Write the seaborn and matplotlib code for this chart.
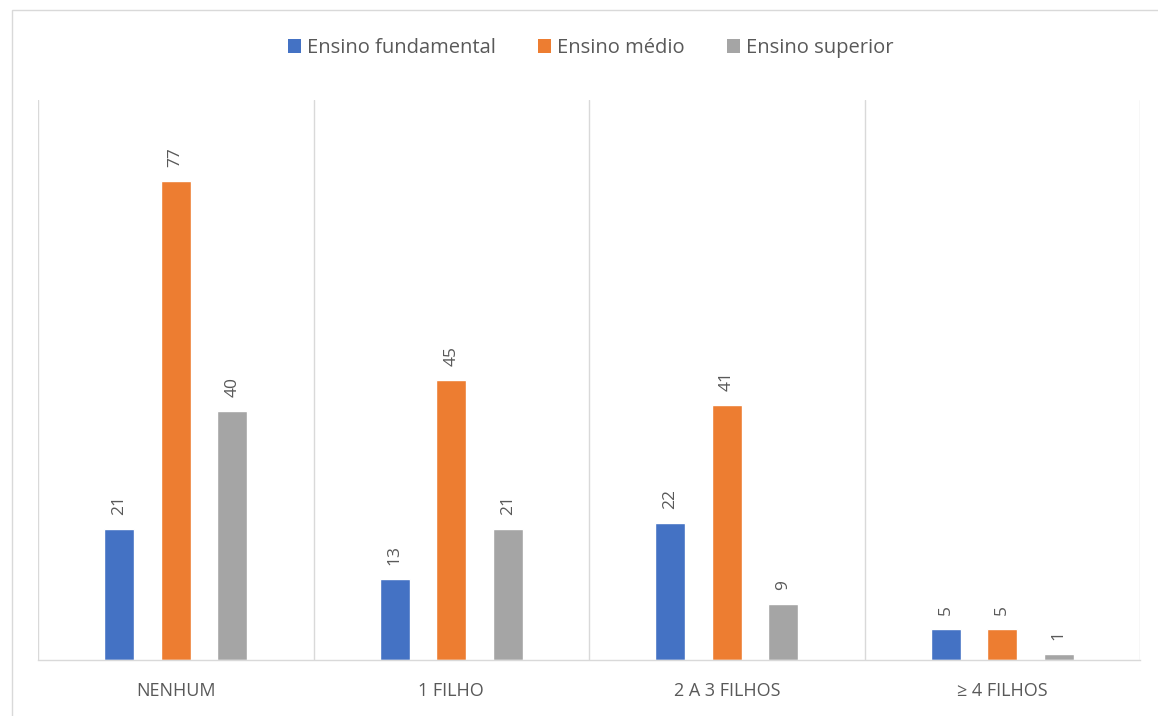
import matplotlib
matplotlib.use("Agg")
import matplotlib.pyplot as plt
import seaborn as sns
import pandas as pd
from matplotlib.patches import Rectangle, Patch

categories = ["NENHUM", "1 FILHO", "2 A 3 FILHOS", "≥ 4 FILHOS"]
series = ["Ensino fundamental", "Ensino médio", "Ensino superior"]
fundamental = [21, 13, 22, 5]
medio = [77, 45, 41, 5]
superior = [40, 21, 9, 1]
colors = ["#4472C4", "#ED7D31", "#A5A5A5"]

rows = []
for s, vals in zip(series, [fundamental, medio, superior]):
    for c, v in zip(categories, vals):
        rows.append({"cat": c, "serie": s, "val": v})
df = pd.DataFrame(rows)

sns.set_theme(style="white")
plt.rcParams["font.family"] = ["Open Sans", "DejaVu Sans"]

fig = plt.figure(figsize=(11.58, 7.16), dpi=100)
ax = fig.add_axes([38/1158, 1-660/716, (1140-38)/1158, (660-100)/716])

sns.barplot(data=df, x="cat", y="val", hue="serie", order=categories,
            hue_order=series, palette=colors, width=0.615, gap=0.47,
            saturation=1, ax=ax, legend=False)

for cont in ax.containers:
    ax.bar_label(cont, padding=10, rotation=90, color="#595959", fontsize=12.5)

ax.set_ylim(0, 90)
ax.set_xlim(-0.5, 3.5)
for x in [-0.5, 0.5, 1.5, 2.5, 3.5]:
    ax.axvline(x, color="#D9D9D9", lw=1, zorder=0)
ax.set_yticks([])
ax.set_xlabel("")
ax.set_ylabel("")
for sp in ["top", "left", "right"]:
    ax.spines[sp].set_visible(False)
ax.spines["bottom"].set_color("#D9D9D9")
ax.spines["bottom"].set_linewidth(1)
ax.tick_params(axis="x", length=0, pad=16, labelsize=13, labelcolor="#595959")

handles = [Patch(facecolor=c, edgecolor="none") for c in colors]
fig.legend(handles, series, loc="center", bbox_to_anchor=(0.51, 1-48/716), ncol=3,
           frameon=False, fontsize=14.5, handlelength=0.65, handleheight=0.65,
           handletextpad=0.3, columnspacing=2.1, labelcolor="#595959")

fig.patches.append(Rectangle((12/1158, -0.01), 1.0, 1-10/716+0.01, transform=fig.transFigure,
                             fill=False, edgecolor="#D9D9D9", lw=1))

fig.savefig("out.png", dpi=100)
